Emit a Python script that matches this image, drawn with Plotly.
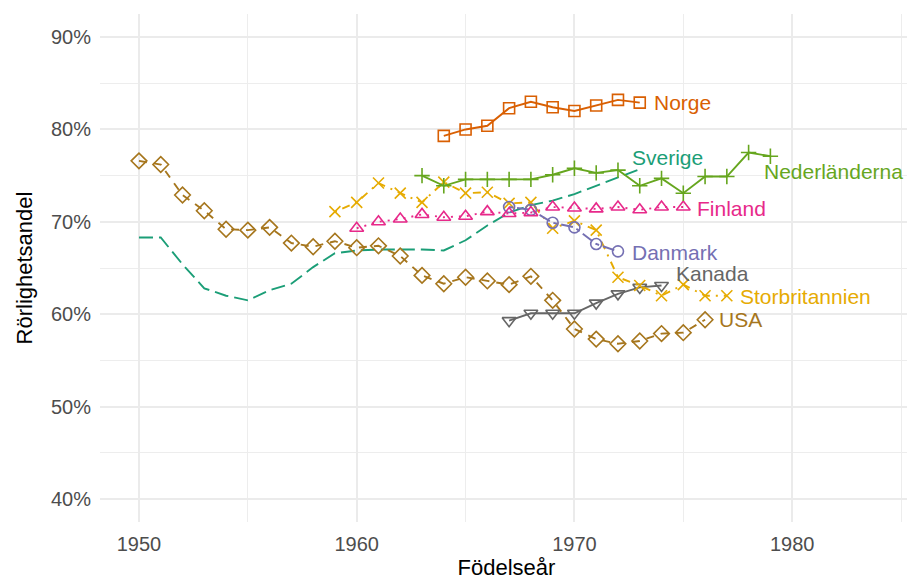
import plotly.graph_objects as go

# ---------------- data ----------------
usa_years = list(range(1950, 1977))
usa_vals = [76.6, 76.2, 72.9, 71.2, 69.2, 69.1, 69.4, 67.7, 67.3, 67.9, 67.2, 67.4, 66.3, 64.2,
            63.3, 64.0, 63.6, 63.2, 64.1, 61.5, 58.4, 57.3, 56.8, 57.1, 57.9, 58.0, 59.4]

sverige_years = list(range(1950, 1974))
sverige_vals = [68.3, 68.3, 65.4, 62.8, 62.0, 61.5, 62.6, 63.3, 65.1, 66.6, 66.9, 67.0,
                67.0, 67.0, 66.9, 68.0, 69.6, 71.0, 71.8, 72.3, 73.0, 73.9, 74.8, 75.7]

norge_years = list(range(1964, 1974))
norge_vals = [79.3, 80.0, 80.4, 82.3, 83.0, 82.4, 82.0, 82.6, 83.2, 82.9]

ned_years = list(range(1963, 1980))
ned_vals = [75.0, 73.9, 74.6, 74.6, 74.6, 74.6, 75.1, 75.8, 75.3, 75.6, 73.9, 74.7, 73.1,
            74.9, 74.9, 77.5, 77.1]

finland_years = list(range(1960, 1976))
finland_vals = [69.3, 70.0, 70.3, 70.8, 70.5, 70.6, 71.1, 70.9, 71.0, 71.6, 71.5, 71.4,
                71.6, 71.3, 71.6, 71.6]

uk_years = list(range(1959, 1978))
uk_vals = [71.1, 72.1, 74.2, 73.1, 72.1, 74.3, 73.1, 73.2, 72.0, 72.1, 69.3, 70.1, 69.1,
           64.0, 63.1, 62.0, 63.2, 62.0, 62.0]

danmark_years = list(range(1967, 1973))
danmark_vals = [71.6, 71.3, 69.9, 69.4, 67.6, 66.8]

kanada_years = list(range(1967, 1975))
kanada_vals = [59.3, 60.1, 60.1, 60.1, 61.2, 62.2, 62.9, 63.1]

x_ticks = [1950, 1960, 1970, 1980]
y_ticks = [40, 50, 60, 70, 80, 90]

# ---------------- styles ----------------
series = [
    # name, years, values, color, dash, symbol, size, label offset (dx, dy)
    ("Sverige", sverige_years, sverige_vals, "#1B9E77", "14px,6px", None, 0, (-0.45, 1.3)),
    ("USA", usa_years, usa_vals, "#A6761D", "8px,7px", "diamond-open", 12, (0.55, 0.05)),
    ("Kanada", kanada_years, kanada_vals, "#666666", "solid", "triangle-down-open", 12, (0.55, 1.35)),
    ("Storbritannien", uk_years, uk_vals, "#E6AB02", "2px,6px,8px,6px", "x-thin-open", 11, (0.5, -0.1)),
    ("Danmark", danmark_years, danmark_vals, "#7570B3", "4px,4px,12px,4px", "circle-open", 11, (0.55, -0.1)),
    ("Finland", finland_years, finland_vals, "#E7298A", "2px,6px", "triangle-up-open", 12, (0.56, -0.2)),
    ("Nederländerna", ned_years, ned_vals, "#66A61E", "solid", "cross-thin-open", 11, (-0.4, -1.6)),
    ("Norge", norge_years, norge_vals, "#D95F02", "solid", "square-open", 11, (0.55, 0.0)),
]

fig = go.Figure()
annotations = []
for name, xs, ys, color, dash, symbol, size, (dx, dy) in series:
    mode = "lines+markers" if symbol else "lines"
    marker = dict(symbol=symbol, size=size, color=color,
                  line=dict(color=color, width=1.6)) if symbol else None
    fig.add_trace(go.Scatter(
        x=xs, y=ys, mode=mode, name=name,
        line=dict(color=color, width=1.9, dash=dash),
        marker=marker, showlegend=False, hoverinfo="skip",
    ))
    annotations.append(dict(
        x=xs[-1] + dx, y=ys[-1] + dy, xref="x", yref="y",
        text=name, showarrow=False, xanchor="left", yanchor="middle",
        font=dict(size=21, color=color, family="Liberation Sans, Arial, sans-serif"),
    ))

# the page body adds an 8px offset, so margins are shifted to compensate
fig.update_layout(
    width=915, height=585,
    margin=dict(l=92, r=10, t=6, b=71, autoexpand=False),
    paper_bgcolor="white", plot_bgcolor="white",
    font=dict(family="Liberation Sans, Arial, sans-serif"),
    annotations=annotations,
)

fig.update_xaxes(
    range=[1948.21, 1985.55],
    tickvals=x_ticks, ticktext=[str(v) for v in x_ticks],
    showgrid=True, gridcolor="#EBEBEB", gridwidth=1.5,
    minor=dict(dtick=5, tick0=1950, showgrid=True, gridcolor="#EDEDED", gridwidth=0.9),
    zeroline=False, showline=False, ticks="",
    tickfont=dict(size=20, color="#4D4D4D"),
    ticklabelstandoff=8,
    title=dict(text="Födelseår", font=dict(size=22, color="black"), standoff=4),
)
fig.update_yaxes(
    range=[37.5, 92.5],
    tickvals=y_ticks, ticktext=[f"{v}%" for v in y_ticks],
    showgrid=True, gridcolor="#EBEBEB", gridwidth=1.5,
    minor=dict(dtick=5, tick0=40, showgrid=True, gridcolor="#EDEDED", gridwidth=0.9),
    zeroline=False, showline=False, ticks="",
    tickfont=dict(size=20, color="#4D4D4D"),
    ticklabelstandoff=8,
    title=dict(text="Rörlighetsandel", font=dict(size=22, color="black"), standoff=12),
)

fig.write_html("out.html")
